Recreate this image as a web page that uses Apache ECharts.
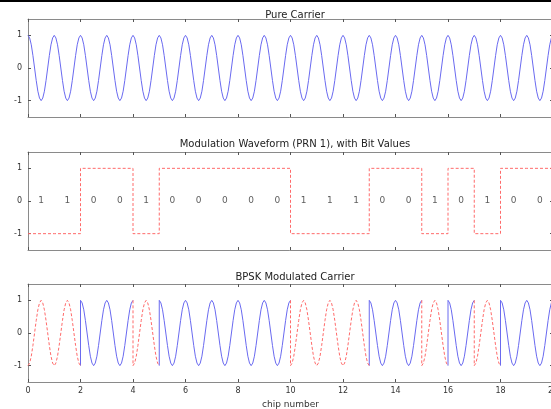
<!DOCTYPE html>
<html>
<head>
<meta charset="utf-8">
<script src="https://cdn.jsdelivr.net/npm/echarts@6/dist/echarts.min.js"></script>
<style>
  html, body { margin: 0; padding: 0; background: #fff; }
  #chart { width: 551px; height: 409px; }
</style>
</head>
<body>
<div id="chart"></div>
<script>
// PRN 1 chips (bit values written on the middle plot)
const prnBits = [1, 1, 0, 0, 1, 0, 0, 0, 0, 0, 1, 1, 1, 0, 0, 1, 0, 1, 0, 0];
// one carrier cycle per chip, 16 samples
const carrierCycle = [1, 0.92, 0.71, 0.38, 0, -0.38, -0.71, -0.92, -1, -0.92, -0.71, -0.38, 0, 0.38, 0.71, 0.92];
const xTicks = [0, 2, 4, 6, 8, 10, 12, 14, 16, 18, 20];
const yTicks = [-1, 0, 1];
const titles = ['Pure Carrier', 'Modulation Waveform (PRN 1), with Bit Values', 'BPSK Modulated Carrier'];

const chipLevel = b => (b ? -1 : 1);
const nSamp = carrierCycle.length;

// build series data from the arrays above
const carrierData = [];
prnBits.forEach((b, c) => {
  carrierCycle.forEach((v, k) => carrierData.push([c + k / nSamp, v]));
});
carrierData.push([prnBits.length, carrierCycle[0]]);

const waveData = [];
prnBits.forEach((b, c) => {
  waveData.push([c, chipLevel(b)]);
  waveData.push([c + 1, chipLevel(b)]);
});

const bitLabels = prnBits.map((b, c) => [c + 0.5, 0, b]);

const bpskRed = [];
const bpskBlue = [];
prnBits.forEach((b, c) => {
  const L = chipLevel(b);
  const target = b ? bpskRed : bpskBlue;
  if (c > 0 && prnBits[c - 1] !== b) {
    target.push([c, '-']);
    target.push([c, chipLevel(prnBits[c - 1]) * carrierCycle[0]]);
  }
  carrierCycle.forEach((v, k) => target.push([c + k / nSamp, L * v]));
  target.push([c + 1, L * carrierCycle[0]]);
});

const myEChart = echarts.init(document.getElementById('chart'));

const gridTops = [19, 152, 284];
const titleTops = [5, 134, 267];
const gridH = 98;
const axisColor = '#8a8a8a';
const labelColor = '#333';
const fontFamily = '"DejaVu Sans", sans-serif';

const grids = gridTops.map(t => ({ left: 28, width: 525, top: t, height: gridH, outerBoundsMode: 'none' }));

const xAxes = [];
const yAxes = [];
gridTops.forEach((t, i) => {
  ['bottom', 'top'].forEach(pos => {
    const withLabels = pos === 'bottom' && i === 2;
    xAxes.push({
      type: 'value', gridIndex: i, position: pos,
      min: 0, max: 20, interval: 2,
      axisLine: { show: true, onZero: false, lineStyle: { color: axisColor } },
      axisTick: { show: true, inside: true, length: 3, lineStyle: { color: '#555' } },
      axisLabel: { show: withLabels, color: labelColor, fontSize: 8, fontFamily: fontFamily, margin: 5 },
      splitLine: { show: false },
      name: withLabels ? 'chip number' : '',
      nameLocation: 'middle', nameGap: 18,
      nameTextStyle: { color: labelColor, fontSize: 9, fontFamily: fontFamily }
    });
  });
  ['left', 'right'].forEach(pos => {
    yAxes.push({
      type: 'value', gridIndex: i, position: pos,
      min: -1.5, max: 1.5,
      axisLine: { show: true, onZero: false, lineStyle: { color: axisColor } },
      axisTick: { show: true, inside: true, length: 3, customValues: yTicks, lineStyle: { color: '#555' } },
      axisLabel: { show: pos === 'left', customValues: yTicks, color: labelColor, fontSize: 8, fontFamily: fontFamily, margin: 6 },
      splitLine: { show: false }
    });
  });
});

const option = {
  animation: false,
  backgroundColor: '#fff',
  graphic: [{ type: 'rect', shape: { x: 0, y: 0, width: 551, height: 2 }, style: { fill: '#000' } }],
  title: titles.map((txt, i) => ({
    text: txt, left: 290, textAlign: 'center', top: titleTops[i],
    textStyle: { color: '#222', fontSize: 10, fontWeight: 'normal', fontFamily: fontFamily }
  })),
  grid: grids,
  xAxis: xAxes,
  yAxis: yAxes,
  series: [
    {
      type: 'line', xAxisIndex: 0, yAxisIndex: 0, data: carrierData,
      showSymbol: false, lineStyle: { color: '#6a6af0', width: 1 }
    },
    {
      type: 'line', xAxisIndex: 2, yAxisIndex: 2, data: waveData,
      showSymbol: false, lineStyle: { color: '#ff6a6a', width: 1, type: [3, 2] }
    },
    {
      type: 'scatter', xAxisIndex: 2, yAxisIndex: 2, data: bitLabels,
      symbolSize: 0,
      label: {
        show: true, position: 'inside', formatter: p => String(p.value[2]),
        color: labelColor, fontSize: 9, fontFamily: fontFamily
      }
    },
    {
      type: 'line', xAxisIndex: 4, yAxisIndex: 4, data: bpskBlue,
      showSymbol: false, connectNulls: false, lineStyle: { color: '#6a6af0', width: 1 }
    },
    {
      type: 'line', xAxisIndex: 4, yAxisIndex: 4, data: bpskRed,
      showSymbol: false, connectNulls: false, lineStyle: { color: '#ff6a6a', width: 1, type: [3, 2] }
    }
  ]
};
myEChart.setOption(option);
window.addEventListener('resize', function () {
  myEChart.resize();
});
</script>
</body>
</html>
